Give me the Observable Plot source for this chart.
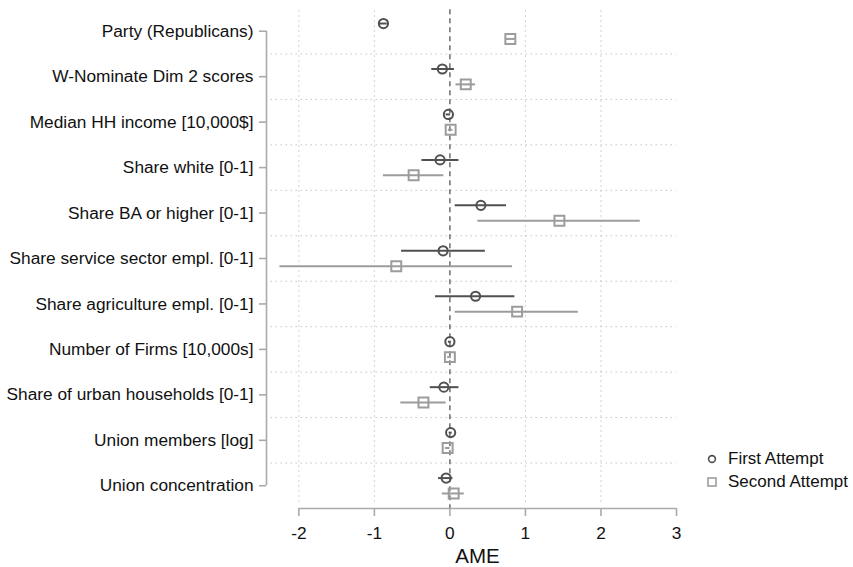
<!DOCTYPE html>
<html><head><meta charset="utf-8">
<script src="https://cdn.jsdelivr.net/npm/d3@7"></script>
<script src="https://cdn.jsdelivr.net/npm/@observablehq/plot@0.6"></script>
<style>
body{margin:0;background:#fff;font-family:"Liberation Sans",Arial,sans-serif;}
#wrap{position:relative;width:853px;height:567px;}
#legend{position:absolute;left:705px;top:447px;font-size:17px;color:#111;}
#legend .row{display:flex;align-items:center;height:23.4px;white-space:nowrap;}
#legend svg{margin-right:9px;}
</style></head><body><div id="wrap"></div>
<script>
const categories = [
  "Party (Republicans)",
  "W-Nominate Dim 2 scores",
  "Median HH income [10,000$]",
  "Share white [0-1]",
  "Share BA or higher [0-1]",
  "Share service sector empl. [0-1]",
  "Share agriculture empl. [0-1]",
  "Number of Firms [10,000s]",
  "Share of urban households [0-1]",
  "Union members [log]",
  "Union concentration"
];
const seriesNames = ["First Attempt", "Second Attempt"];
const firstEst = [-0.88, -0.10, -0.02, -0.13, 0.41, -0.09, 0.34, 0.00, -0.08, 0.01, -0.05];
const firstLo  = [-0.93, -0.24, -0.05, -0.37, 0.07, -0.64, -0.19, -0.02, -0.26, -0.01, -0.15];
const firstHi  = [-0.83, 0.06, 0.01, 0.12, 0.75, 0.47, 0.86, 0.02, 0.12, 0.03, 0.04];
const secondEst = [0.80, 0.21, 0.01, -0.48, 1.45, -0.71, 0.89, 0.00, -0.35, -0.03, 0.05];
const secondLo  = [0.74, 0.08, -0.02, -0.88, 0.37, -2.25, 0.07, -0.03, -0.65, -0.06, -0.10];
const secondHi  = [0.87, 0.34, 0.04, -0.08, 2.52, 0.83, 1.70, 0.02, -0.05, 0.00, 0.19];
const xTicks = [-2, -1, 0, 1, 2, 3];
const xLabel = "AME";

const idx = categories.map((_, i) => i);
const rows1 = idx.map(i => ({i, est: firstEst[i], lo: firstLo[i], hi: firstHi[i]}));
const rows2 = idx.map(i => ({i, est: secondEst[i], lo: secondLo[i], hi: secondHi[i]}));
const xMin = -2.428, xMax = 3;
const c1 = "#505050", c2 = "#9c9c9c";
const gridColor = "#c4c4c4";
const n = categories.length;

const plot = Plot.plot({
  width: 853, height: 567,
  marginLeft: 266, marginRight: 177, marginTop: 8, marginBottom: 59,
  x: {domain: [xMin, xMax]},
  y: {domain: [-0.5, n - 0.5], reverse: true},
  style: {fontFamily: "'Liberation Sans', Arial, sans-serif", color: "#111", background: "#fff"},
  marks: [
    Plot.ruleY(idx.slice(0, -1).map(i => i + 0.5), {x1: xMin + 0.06, x2: xMax, stroke: gridColor, strokeDasharray: "1.5,3.5", strokeWidth: 1}),
    Plot.ruleX(xTicks.filter(t => t !== 0 && t !== xMax), {y1: -0.45, y2: n - 0.62, stroke: gridColor, strokeDasharray: "1.5,3.5", strokeWidth: 1}),
    Plot.ruleX([0], {y1: -0.47, y2: n - 0.5, stroke: "#555", strokeDasharray: "5,4", strokeWidth: 1.3}),
    Plot.ruleY([n - 0.5], {x1: xTicks[0], x2: xTicks[xTicks.length - 1], stroke: "#aaa", strokeWidth: 1.6}),
    Plot.axisX({ticks: xTicks, tickSize: 8, tickPadding: 10, fontSize: 17.3, stroke: "#aaa", strokeWidth: 1.6, label: null, tickFormat: d => String(d)}),
    Plot.text([xLabel], {frameAnchor: "bottom", dy: 54, dx: 6, fontSize: 20.5, fill: "#111"}),
    Plot.ruleX([xMin], {y1: 0, y2: n - 1, stroke: "#aaa", strokeWidth: 1.6}),
    Plot.axisY({ticks: idx, tickFormat: i => categories[i], tickSize: 7, tickPadding: 6, fontSize: 17.3, stroke: "#aaa", strokeWidth: 1.6, label: null}),
    Plot.ruleY(rows1, {y: "i", x1: "lo", x2: "hi", dy: -7.7, stroke: c1, strokeWidth: 2}),
    Plot.ruleY(rows2, {y: "i", x1: "lo", x2: "hi", dy: 7.7, stroke: c2, strokeWidth: 2}),
    Plot.dot(rows1, {x: "est", y: "i", dy: -7.7, r: 4.6, symbol: "circle", stroke: c1, strokeWidth: 2, fill: "none"}),
    Plot.dot(rows2, {x: "est", y: "i", dy: 7.7, r: 5.6, symbol: "square", stroke: c2, strokeWidth: 2, fill: "none"})
  ]
});
const wrap = document.getElementById("wrap");
wrap.appendChild(plot);

const legend = document.createElement("div");
legend.id = "legend";
legend.innerHTML =
  `<div class="row"><svg width="14" height="14"><circle cx="7" cy="7" r="3.4" fill="none" stroke="${c1}" stroke-width="1.6"/></svg>${seriesNames[0]}</div>` +
  `<div class="row"><svg width="14" height="14"><rect x="3" y="3" width="8" height="8" fill="none" stroke="${c2}" stroke-width="1.6"/></svg>${seriesNames[1]}</div>`;
wrap.appendChild(legend);
</script>
</body></html>
